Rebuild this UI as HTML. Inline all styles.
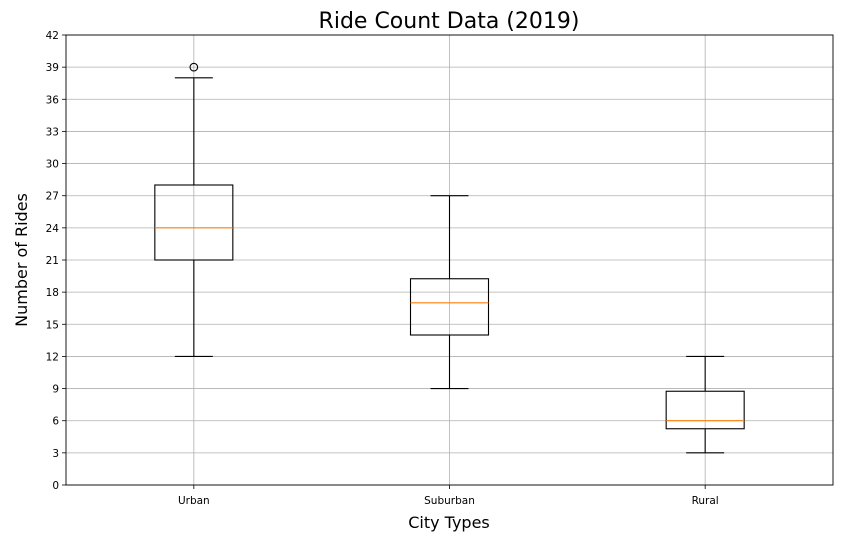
<!DOCTYPE html>
<html><head><meta charset="utf-8"><style>
body{margin:0;background:#fff;font-family:"DejaVu Sans","Liberation Sans",sans-serif}
svg text{font-family:"DejaVu Sans","Liberation Sans",sans-serif}
</style></head><body>
<svg id="chart" width="862" height="538" xmlns="http://www.w3.org/2000/svg">
<text x="449" y="28" font-size="22" text-anchor="middle" fill="#000">Ride Count Data (2019)</text>
<text x="449" y="528" font-size="16" text-anchor="middle">City Types</text>
<text transform="translate(27,260) rotate(-90)" font-size="16" text-anchor="middle">Number of Rides</text>
<g id="grid"></g><g id="boxes"></g><g id="axes"></g>
</svg>
<script>
const categories=["Urban","Suburban","Rural"];
const whiskerLow=[12,9,3];
const q1=[21,14,5.25];
const medians=[24,17,6];
const q3=[28,19.25,8.75];
const whiskerHigh=[38,27,12];
const outliers=[[39],[],[]];
const yTicks=[0,3,6,9,12,15,18,21,24,27,30,33,36,39,42];
const L=66,R=833,T=35,B=485,yMax=42;
const NS="http://www.w3.org/2000/svg";
const y=v=>B-(v/yMax)*(B-T);
const step=(R-L)/categories.length;
const x=i=>L+step*(i+0.5);
function mk(tag,attrs,parent){const e=document.createElementNS(NS,tag);for(const k in attrs)e.setAttribute(k,attrs[k]);parent.appendChild(e);return e;}
const grid=document.getElementById('grid'),boxes=document.getElementById('boxes'),axes=document.getElementById('axes');
yTicks.forEach(t=>{
 const g=mk('line',{x1:L,x2:R,y1:y(t),y2:y(t),stroke:'#b0b0b0','stroke-width':0.8},grid);
 
 
 const tk=mk('line',{x1:L-4,x2:L,y1:y(t),y2:y(t),stroke:'#000','stroke-width':0.8},axes);
 
 
 const lb=mk('text',{x:L-7,y:y(t)+4,'font-size':10.5,'text-anchor':'end'},axes);
 lb.textContent=t;
 
 
});
categories.forEach((c,i)=>{
 const cx=x(i);
 const g=mk('line',{x1:cx,x2:cx,y1:T,y2:B,stroke:'#b0b0b0','stroke-width':0.8},grid);
 
 
 const tk=mk('line',{x1:cx,x2:cx,y1:B,y2:B+4,stroke:'#000','stroke-width':0.8},axes);
 
 
 const lb=mk('text',{x:cx,y:B+19,'font-size':10.5,'text-anchor':'middle'},axes);
 lb.textContent=c;
 
 
 const grp=mk('g',{},boxes);
 
 
 const bw=39,cw=19,s={stroke:'#000','stroke-width':1.1,fill:'none'};
 mk('line',Object.assign({x1:cx,x2:cx,y1:y(q1[i]),y2:y(whiskerLow[i])},s),grp);
 mk('line',Object.assign({x1:cx,x2:cx,y1:y(q3[i]),y2:y(whiskerHigh[i])},s),grp);
 mk('line',Object.assign({x1:cx-cw,x2:cx+cw,y1:y(whiskerLow[i]),y2:y(whiskerLow[i])},s),grp);
 mk('line',Object.assign({x1:cx-cw,x2:cx+cw,y1:y(whiskerHigh[i]),y2:y(whiskerHigh[i])},s),grp);
 mk('rect',Object.assign({x:cx-bw,y:y(q3[i]),width:2*bw,height:y(q1[i])-y(q3[i])},s),grp);
 mk('line',{x1:cx-bw,x2:cx+bw,y1:y(medians[i]),y2:y(medians[i]),stroke:'#ff7f0e','stroke-width':1.1},grp);
 outliers[i].forEach(o=>{
  const p=mk('circle',{cx:cx,cy:y(o),r:3.8,fill:'none',stroke:'#000','stroke-width':1.1},grp);
  
  
 });
});
const fr=mk('rect',{x:L,y:T,width:R-L,height:B-T,fill:'none',stroke:'#000','stroke-width':0.9},axes);


</script>
</body></html>
